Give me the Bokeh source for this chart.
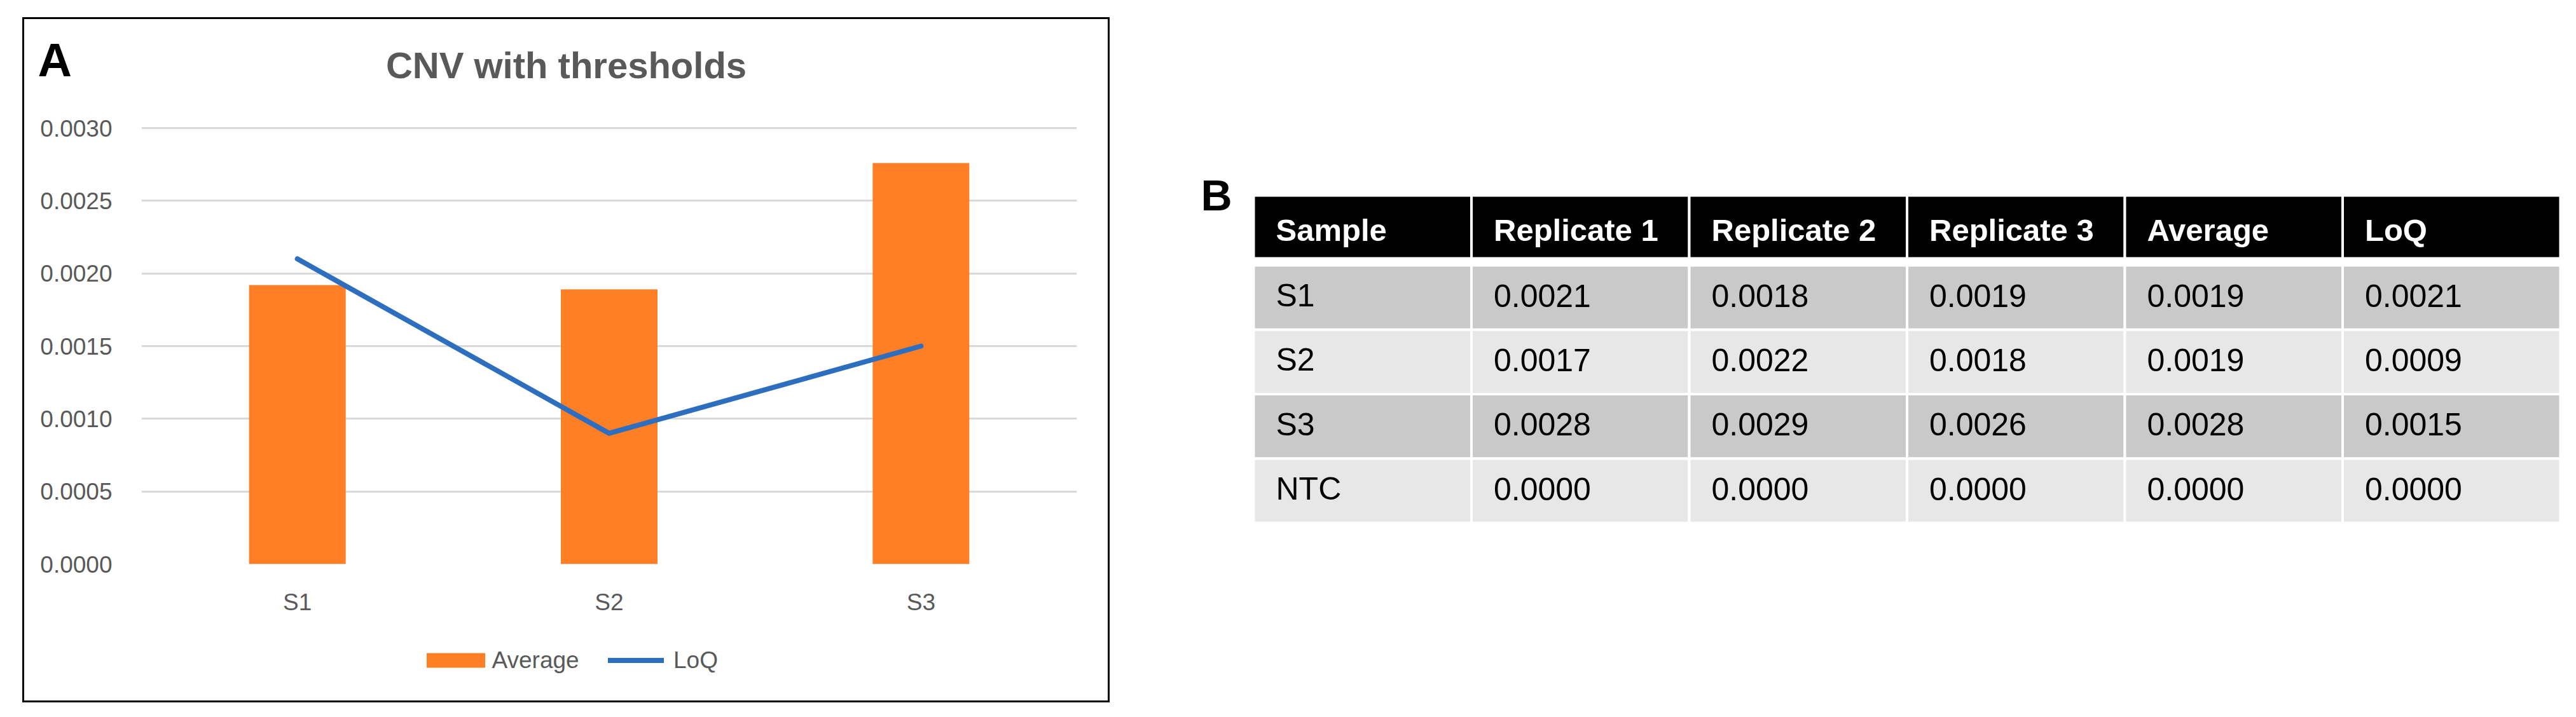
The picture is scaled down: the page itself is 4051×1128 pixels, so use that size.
from bokeh.plotting import figure
from bokeh.models import (Range1d, FactorRange, FixedTicker, PrintfTickFormatter, Label,
                          Legend, LegendItem, Spacer)
from bokeh.layouts import row, column
from bokeh.core.properties import value
from bokeh.embed import file_html
from bokeh.resources import INLINE

# ---------------- data ----------------
chart_samples = ["S1", "S2", "S3"]
chart_average = [0.00192, 0.00189, 0.00276]
chart_loq = [0.0021, 0.0009, 0.0015]
y_ticks = [0.0, 0.0005, 0.0010, 0.0015, 0.0020, 0.0025, 0.0030]

table_headers = ["Sample", "Replicate 1", "Replicate 2", "Replicate 3", "Average", "LoQ"]
table_samples = ["S1", "S2", "S3", "NTC"]
table_rep1 = [0.0021, 0.0017, 0.0028, 0.0000]
table_rep2 = [0.0018, 0.0022, 0.0029, 0.0000]
table_rep3 = [0.0019, 0.0018, 0.0026, 0.0000]
table_average = [0.0019, 0.0019, 0.0028, 0.0000]
table_loq = [0.0021, 0.0009, 0.0015, 0.0000]

# ---------------- styles ----------------
FONT = "Liberation Sans"
ORANGE = "#FF7F27"
BLUE = "#2E6EBF"
GRAY_TXT = "#595959"
GRID = "#D9D9D9"
BLACK_BOX = {"background-color": "black"}


def blank_fig(w, h):
    f = figure(width=w, height=h, output_backend="svg", toolbar_location=None, title=None,
               x_axis_type=None, y_axis_type=None, x_range=Range1d(0, 1),
               y_range=Range1d(0, 1), min_border=0, frame_align=False)
    f.outline_line_color = None
    f.background_fill_color = "white"
    f.border_fill_color = "white"
    return f


# ---------------- panel A ----------------
WA = 1704                      # inner width of panel A (inside the 3px frame)
H0, H1, H3 = 150, 795, 127     # heading band, chart, legend band

# heading band: panel letter and chart title
p0 = blank_fig(WA, H0)
p0.add_layout(Label(x=21, y=H0 - 64, x_units="screen", y_units="screen",
                    text="A", text_align="left", text_baseline="middle",
                    text_font=FONT, text_font_size="74px", text_font_style="bold",
                    text_color="black"))
p0.add_layout(Label(x=WA / 2, y=H0 - 72, x_units="screen", y_units="screen",
                    text="CNV with thresholds", text_align="center", text_baseline="middle",
                    text_font=FONT, text_font_size="58px", text_font_style="bold",
                    text_color=GRAY_TXT))

# chart
FL, FR, FT, FB = 184, 49, 15, 88
FRAME_H = H1 - FT - FB
TOP_PAD_PX = 6
p1 = figure(width=WA, height=H1, output_backend="svg", toolbar_location=None, title=None,
            x_range=FactorRange(factors=chart_samples, range_padding=0),
            y_range=Range1d(0, max(y_ticks) * FRAME_H / (FRAME_H - TOP_PAD_PX)),
            min_border_left=FL, min_border_right=FR, min_border_top=FT, min_border_bottom=FB,
            frame_align=False)
p1.background_fill_color = "white"
p1.border_fill_color = "white"
p1.outline_line_color = None

bars = p1.vbar(x=chart_samples, top=chart_average, width=0.31,
               fill_color=ORANGE, line_color=None)
loq_line = p1.line(x=chart_samples, y=chart_loq, line_color=BLUE, line_width=8,
                   line_cap="round", line_join="round")

p1.xgrid.grid_line_color = None
p1.ygrid.grid_line_color = GRID
p1.ygrid.grid_line_width = 3
p1.ygrid.ticker = FixedTicker(ticks=y_ticks)

yax = p1.yaxis[0]
yax.ticker = FixedTicker(ticks=y_ticks)
yax.formatter = PrintfTickFormatter(format="%.4f")
xax = p1.xaxis[0]
for ax, st in ((yax, 40), (xax, 33)):
    ax.axis_line_color = None
    ax.major_tick_line_color = None
    ax.minor_tick_line_color = None
    ax.major_label_standoff = st
    ax.major_label_text_font = FONT
    ax.major_label_text_font_size = "37px"
    ax.major_label_text_color = GRAY_TXT

# legend band (legend glyphs styled like the chart's renderers; proxies sit outside the view)
p3 = blank_fig(WA, H3)
leg_bar = p3.vbar(x=[-5.0], top=[-5.0], bottom=[-6.0], width=0.31,
                  fill_color=ORANGE, line_color=None)
leg_line = p3.line(x=[-6.0, -5.0], y=[-5.0, -5.0], line_color=BLUE, line_width=8,
                   line_cap="round")
common_leg = dict(orientation="horizontal", padding=0, margin=0, border_line_color=None,
                  background_fill_alpha=0, label_text_font=FONT, label_text_font_size="37px",
                  label_text_color=GRAY_TXT, glyph_height=29)
p3.add_layout(Legend(items=[LegendItem(label="Average", renderers=[leg_bar])],
                     location=(620.5, 42.5), glyph_width=115, label_standoff=0, **common_leg))
p3.add_layout(Legend(items=[LegendItem(label="LoQ", renderers=[leg_line])],
                     location=(918, 42.5), glyph_width=88, label_standoff=15, **common_leg))

inner_h = H0 + H1 + H3
panel_a = column(
    Spacer(width=WA + 6, height=3, styles=BLACK_BOX),
    row(Spacer(width=3, height=inner_h, styles=BLACK_BOX),
        column(p0, p1, p3),
        Spacer(width=3, height=inner_h, styles=BLACK_BOX)),
    Spacer(width=WA + 6, height=3, styles=BLACK_BOX))

# ---------------- panel B: table ----------------
W2, H2 = 2165, 580
COL_PX, X0_PX = 342.5, 101
ROW_PX, Y0_PX = 101.3, 157
HDR_TOP, HDR_BOT, HDR_TXT = -110 / ROW_PX, -11 / ROW_PX, -55.5 / ROW_PX
TXT_DX, BODY_TXT_DY = 35 / COL_PX, 0.47

p2 = figure(width=W2, height=H2, output_backend="svg", toolbar_location=None, title=None,
            x_axis_type=None, y_axis_type=None,
            x_range=Range1d(-X0_PX / COL_PX, (W2 - X0_PX) / COL_PX),
            y_range=Range1d((H2 - Y0_PX) / ROW_PX, -Y0_PX / ROW_PX),
            min_border=0, frame_align=False)
p2.outline_line_color = None
p2.background_fill_color = "white"
p2.border_fill_color = "white"

ncol = len(table_headers)
cols = list(range(ncol))

p2.quad(left=cols, right=[c + 1 for c in cols], top=[HDR_TOP] * ncol, bottom=[HDR_BOT] * ncol,
        fill_color="black", line_color="white", line_width=4)
p2.text(x=[c + TXT_DX for c in cols], y=[HDR_TXT] * ncol, text=table_headers,
        text_font=value(FONT), text_font_size="49px", text_font_style="bold",
        text_color="white", text_align="left", text_baseline="middle")

rows_values = []
for i, s in enumerate(table_samples):
    rows_values.append([s] + ["%.4f" % v for v in (table_rep1[i], table_rep2[i], table_rep3[i],
                                                   table_average[i], table_loq[i])])
ql, qr, qt, qb, qc, tx, ty, tt = [], [], [], [], [], [], [], []
for i, vals in enumerate(rows_values):
    fill = "#C9C9C9" if i % 2 == 0 else "#E7E7E7"
    for c, txt in enumerate(vals):
        ql.append(c); qr.append(c + 1); qt.append(i); qb.append(i + 1); qc.append(fill)
        tx.append(c + TXT_DX); ty.append(i + BODY_TXT_DY); tt.append(txt)
p2.quad(left=ql, right=qr, top=qt, bottom=qb, fill_color=qc, line_color="white", line_width=4)
p2.text(x=tx, y=ty, text=tt, text_font=value(FONT), text_font_size="50px",
        text_color="black", text_align="left", text_baseline="middle")

p2.add_layout(Label(x=18, y=H2 - 46.5, x_units="screen", y_units="screen",
                    text="B", text_align="left", text_baseline="middle",
                    text_font=FONT, text_font_size="68px", text_font_style="bold",
                    text_color="black"))

layout = row(Spacer(width=35, height=1),
             column(Spacer(width=1, height=27), panel_a),
             Spacer(width=125, height=1),
             column(Spacer(width=1, height=260), p2))

open("out.html", "w").write(file_html(layout, INLINE))
